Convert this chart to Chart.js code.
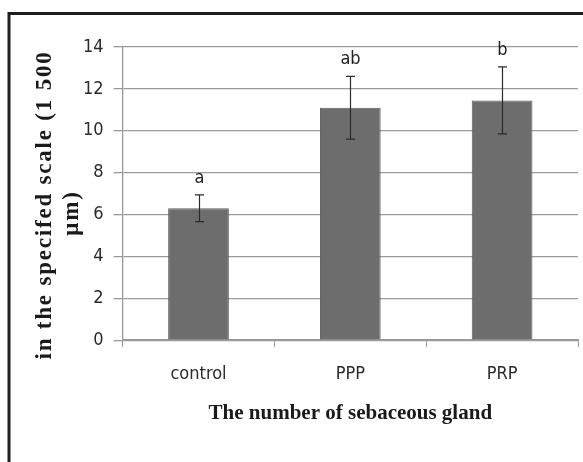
<!DOCTYPE html>
<html>
<head>
<meta charset="utf-8">
<script src="https://cdn.jsdelivr.net/npm/chart.js@4.4.1/dist/chart.umd.min.js"></script>
<style>
  html, body { margin: 0; padding: 0; background: #fff; }
  #wrap { width: 583px; height: 462px; position: relative; }
</style>
</head>
<body>
<div id="wrap"><canvas id="c" width="583" height="462"></canvas></div>
<script>
const categories = ['control', 'PPP', 'PRP'];
const means = [6.3, 11.1, 11.45];
const errors = [0.64, 1.5, 1.6];
const letters = ['a', 'ab', 'b'];
const yTitleLines = ['in the specifed scale (1 500', 'μm)'];
const xTitle = 'The number of sebaceous gland';

const sansNarrow = "'Liberation Sans Narrow', 'DejaVu Sans Condensed', 'Open Sans', sans-serif";
const serif = "'Liberation Serif', 'DejaVu Serif', serif";

const framePlugin = {
  id: 'frame',
  beforeDraw(chart) {
    const ctx = chart.ctx;
    ctx.save();
    ctx.fillStyle = '#fff';
    ctx.fillRect(0, 0, chart.width, chart.height);
    ctx.strokeStyle = '#1e1e1e';
    ctx.lineWidth = 3;
    ctx.beginPath();
    ctx.moveTo(9, chart.height);
    ctx.lineTo(9, 13.5);
    ctx.lineTo(chart.width, 13.5);
    ctx.stroke();
    ctx.restore();
  },
  afterDraw(chart) {
    const ctx = chart.ctx;
    ctx.save();
    ctx.fillStyle = '#1a1a1a';
    ctx.font = 'bold 23px ' + serif;
    ctx.letterSpacing = '1.8px';
    ctx.textAlign = 'center';
    ctx.textBaseline = 'middle';
    const pos = [[45, 205], [72, 213]];
    yTitleLines.forEach((t, i) => {
      ctx.save();
      ctx.translate(pos[i][0], pos[i][1]);
      ctx.rotate(-Math.PI / 2);
      ctx.fillText(t, 0, 0);
      ctx.restore();
    });
    ctx.restore();
  }
};

const errorPlugin = {
  id: 'errbars',
  afterDatasetsDraw(chart) {
    const ctx = chart.ctx;
    const xs = chart.scales.x, ys = chart.scales.y;
    ctx.save();
    ctx.strokeStyle = '#2a2a2a';
    ctx.lineWidth = 1.2;
    ctx.fillStyle = '#222';
    ctx.font = '18px ' + sansNarrow;
    ctx.textAlign = 'center';
    ctx.textBaseline = 'alphabetic';
    means.forEach((m, i) => {
      const x = Math.round(xs.getPixelForValue(i)) + 0.5;
      const yTop = ys.getPixelForValue(m + errors[i]);
      const yBot = ys.getPixelForValue(m - errors[i]);
      ctx.beginPath();
      ctx.moveTo(x, yTop); ctx.lineTo(x, yBot);
      ctx.moveTo(x - 4.5, yTop); ctx.lineTo(x + 4.5, yTop);
      ctx.moveTo(x - 4.5, yBot); ctx.lineTo(x + 4.5, yBot);
      ctx.stroke();
      ctx.fillText(letters[i], x, yTop - 12);
    });
    ctx.restore();
  }
};

new Chart(document.getElementById('c'), {
  type: 'bar',
  data: {
    labels: categories,
    datasets: [{
      data: means,
      backgroundColor: '#6d6d6d',
      borderColor: '#5e5e5e',
      borderWidth: 1,
      barPercentage: 0.4,
      categoryPercentage: 1.0
    }]
  },
  options: {
    responsive: false,
    animation: false,
    devicePixelRatio: 1,
    layout: { padding: { left: 73, right: 5, top: 47, bottom: 36 } },
    plugins: { legend: { display: false }, tooltip: { enabled: false } },
    scales: {
      x: {
        offset: true,
        grid: { offset: true, drawOnChartArea: false, color: '#9a9a9a', tickLength: 7, lineWidth: 1 },
        border: { color: '#9a9a9a', width: 1.5 },
        ticks: { color: '#2a2a2a', font: { family: sansNarrow, size: 18 }, padding: 16 },
        title: { display: true, text: xTitle, color: '#1a1a1a', font: { family: serif, size: 21, weight: 'bold' }, padding: { top: 0, bottom: 0 } }
      },
      y: {
        min: 0, max: 14,
        ticks: { stepSize: 2, color: '#2a2a2a', font: { family: sansNarrow, size: 18 }, padding: 10 },
        grid: { color: '#9a9a9a', tickLength: 9, lineWidth: 1.3 },
        border: { color: '#9a9a9a', width: 1.3 }
      }
    }
  },
  plugins: [framePlugin, errorPlugin]
});
</script>
</body>
</html>
